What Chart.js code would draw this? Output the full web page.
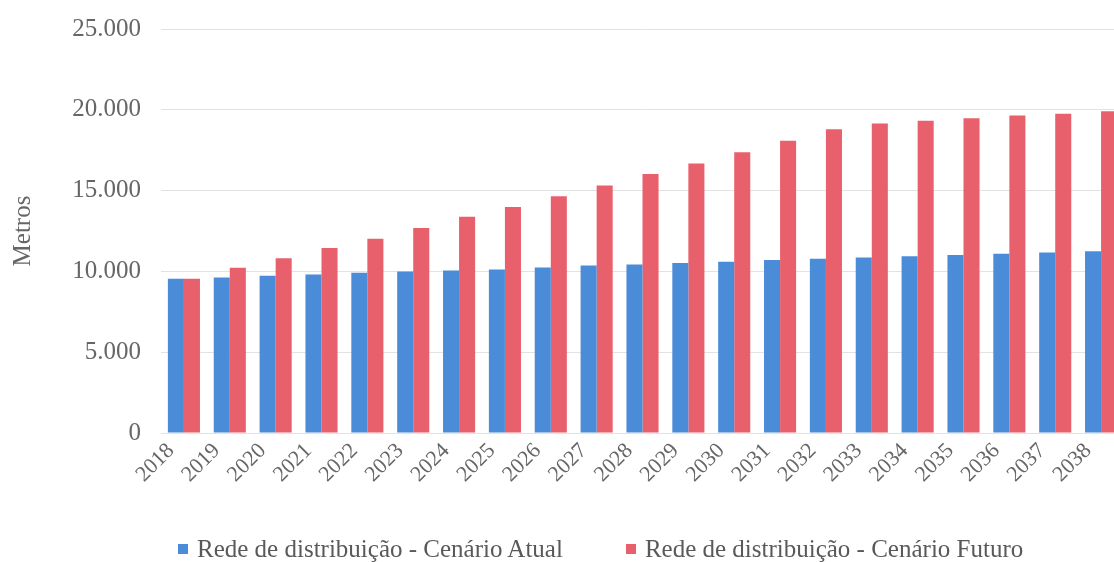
<!DOCTYPE html>
<html>
<head>
<meta charset="utf-8">
<script src="https://cdn.jsdelivr.net/npm/chart.js@4.4.1/dist/chart.umd.min.js"></script>
<style>
  html, body { margin: 0; padding: 0; background: #fff; overflow: hidden; }
  #wrap { position: relative; width: 1138px; height: 562px; }
  #legend {
    position: absolute; left: 178px; top: 534px;
    display: flex; align-items: center; white-space: nowrap;
    font: 25px "Liberation Serif", serif; line-height: 30px; color: #595959;
  }
  #legend .item { display: flex; align-items: center; margin-right: 63px; }
  #legend .box { width: 10px; height: 10px; margin-right: 9px; }
</style>
</head>
<body>
<div id="wrap">
  <canvas id="chart-rede" width="1138" height="562"></canvas>
  <div id="legend"></div>
</div>
<script>
// anos do horizonte de planejamento
var anos = ['2018', '2019', '2020', '2021', '2022', '2023', '2024', '2025', '2026', '2027',
  '2028', '2029', '2030', '2031', '2032', '2033', '2034', '2035', '2036', '2037', '2038'];

// extensao da rede (metros)
var cenarioAtual = [9550, 9630, 9730, 9810, 9910, 9990, 10060, 10120, 10240, 10360,
  10420, 10520, 10600, 10700, 10780, 10860, 10930, 11010, 11090, 11170, 11250];
var cenarioFuturo = [9550, 10220, 10810, 11450, 12020, 12680, 13380, 13990, 14650, 15310,
  16030, 16680, 17380, 18090, 18800, 19150, 19330, 19470, 19650, 19750, 19910];

var nomes = ['Rede de distribuição - Cenário Atual', 'Rede de distribuição - Cenário Futuro'];
var eixoY = [0, 5000, 10000, 15000, 20000, 25000];

var fonte = "'Liberation Serif', serif";

var ctx = document.getElementById("chart-rede").getContext("2d");

var chartRede = new Chart(ctx, {
  type: 'bar',
  data: {
    labels: anos,
    datasets: [{
      label: nomes[0],
      data: cenarioAtual,
      backgroundColor: "#4b8cd9",
      categoryPercentage: 0.7,
      barPercentage: 1.0
    }, {
      label: nomes[1],
      data: cenarioFuturo,
      backgroundColor: "#e9606d",
      categoryPercentage: 0.7,
      barPercentage: 1.0
    }]
  },
  options: {
    responsive: false,
    animation: false,
    layout: {
      padding: { top: 29, right: 14, bottom: 49, left: 0 }
    },
    plugins: {
      legend: { display: false },
      tooltip: { enabled: false }
    },
    scales: {
      x: {
        grid: { display: false },
        border: { display: false },
        ticks: {
          autoSkip: false,
          minRotation: 45,
          maxRotation: 45,
          padding: -3,
          labelOffset: -13,
          color: "#666",
          font: { family: fonte, size: 22 }
        },
        afterFit: function (scale) { scale.height = 80; }
      },
      y: {
        min: eixoY[0],
        max: eixoY[eixoY.length - 1],
        afterBuildTicks: function (scale) {
          scale.ticks = eixoY.map(function (v) { return { value: v }; });
        },
        grid: { color: "#e2e2e2", drawTicks: false },
        border: { display: false },
        ticks: {
          padding: 20,
          color: "#666",
          font: { family: fonte, size: 25 },
          callback: function (v) {
            return String(v).replace(/\B(?=(\d{3})+(?!\d))/g, '.');
          }
        },
        title: {
          display: true,
          text: 'Metros',
          color: "#666",
          padding: { top: 8, bottom: 0 },
          font: { family: fonte, size: 25 }
        },
        afterFit: function (scale) {
          scale.width = 161;
          scale.paddingTop = 0;
          scale.paddingBottom = 0;
        }
      }
    }
  }
});

// legenda em html, montada a partir dos datasets
var legenda = document.getElementById("legend");
chartRede.data.datasets.forEach(function (ds) {
  var item = document.createElement("div");
  item.className = "item";
  var box = document.createElement("span");
  box.className = "box";
  box.style.background = ds.backgroundColor;
  var txt = document.createElement("span");
  txt.textContent = ds.label;
  item.appendChild(box);
  item.appendChild(txt);
  legenda.appendChild(item);
});
</script>
</body>
</html>
